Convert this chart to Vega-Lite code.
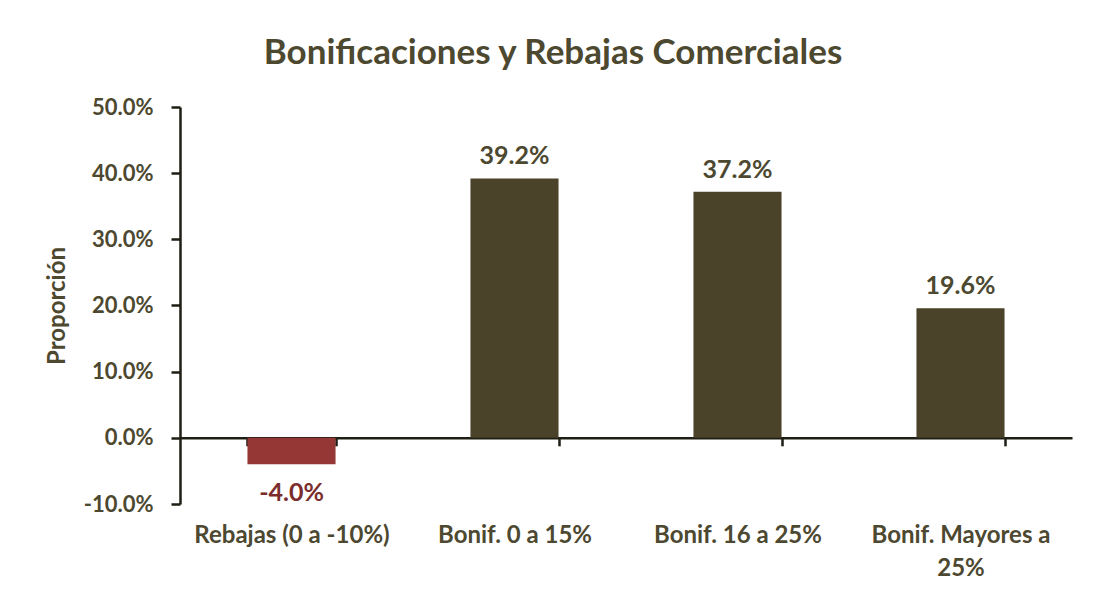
{
  "$schema": "https://vega.github.io/schema/vega-lite/v6.json",
  "autosize": {"type": "none"},
  "width": 892,
  "height": 397,
  "padding": {"left": 180, "top": 107, "right": 22, "bottom": 96},
  "background": "white",
  "title": {
    "text": "Bonificaciones y Rebajas Comerciales",
    "font": "Lato",
    "fontSize": 35,
    "fontWeight": "bold",
    "color": "#4d4830",
    "anchor": "middle",
    "dx": -73,
    "offset": 25
  },
  "data": {
    "values": [
      {"categoria": "Rebajas (0 a -10%)", "valor": -0.04, "tipo": "rebaja"},
      {"categoria": "Bonif. 0 a 15%", "valor": 0.392, "tipo": "bonif"},
      {"categoria": "Bonif. 16 a 25%", "valor": 0.372, "tipo": "bonif"},
      {"categoria": "Bonif. Mayores a 25%", "valor": 0.196, "tipo": "bonif"}
    ]
  },
  "encoding": {
    "x": {
      "field": "categoria",
      "type": "nominal",
      "sort": null,
      "scale": {"paddingInner": 0.605, "paddingOuter": 0.3025},
      "axis": {
        "title": null,
        "offset": -66.2,
        "labelAngle": 0,
        "labelFont": "Lato",
        "labelFontSize": 24,
        "labelFontWeight": "bold",
        "labelColor": "#4d4830",
        "labelPadding": 78,
        "labelLineHeight": 33,
        "labelLimit": 400,
        "labelExpr": "datum.label == 'Bonif. Mayores a 25%' ? ['Bonif. Mayores a', '25%'] : datum.label",
        "domainColor": "#1e1e14",
        "domainWidth": 2.5,
        "tickColor": "#1e1e14",
        "tickWidth": 2.5,
        "tickSize": 8,
        "tickBand": "extent"
      }
    },
    "y": {
      "field": "valor",
      "type": "quantitative",
      "scale": {"domain": [-0.1, 0.5], "nice": false, "zero": false},
      "axis": {
        "title": "Proporción",
        "titleFont": "Lato",
        "titleFontSize": 24,
        "titleFontWeight": "bold",
        "titleColor": "#4d4830",
        "titlePadding": 14,
        "format": ".1%",
        "values": [-0.1, 0, 0.1, 0.2, 0.3, 0.4, 0.5],
        "grid": false,
        "labelFont": "Lato",
        "labelFontSize": 22,
        "labelFontWeight": "bold",
        "labelColor": "#4d4830",
        "labelPadding": 18,
        "domainColor": "#1e1e14",
        "domainWidth": 2.5,
        "tickColor": "#1e1e14",
        "tickWidth": 2.5,
        "tickSize": 9
      }
    }
  },
  "layer": [
    {
      "mark": {"type": "bar"},
      "encoding": {
        "color": {
          "field": "tipo",
          "type": "nominal",
          "scale": {"domain": ["rebaja", "bonif"], "range": ["#953735", "#4a4229"]},
          "legend": null
        }
      }
    },
    {
      "transform": [{"filter": "datum.valor >= 0"}],
      "mark": {"type": "text", "font": "Lato", "fontSize": 25, "fontWeight": "bold", "color": "#4d4830", "baseline": "middle", "dy": -22},
      "encoding": {"text": {"field": "valor", "type": "quantitative", "format": ".1%"}}
    },
    {
      "transform": [{"filter": "datum.valor < 0"}],
      "mark": {"type": "text", "font": "Lato", "fontSize": 25, "fontWeight": "bold", "color": "#7b2c2c", "baseline": "middle", "dy": 29},
      "encoding": {"text": {"field": "valor", "type": "quantitative", "format": ".1%"}}
    }
  ],
  "config": {
    "view": {"stroke": null},
    "locale": {"number": {"decimal": ".", "thousands": ",", "grouping": [3], "currency": ["$", ""], "minus": "-"}}
  }
}
